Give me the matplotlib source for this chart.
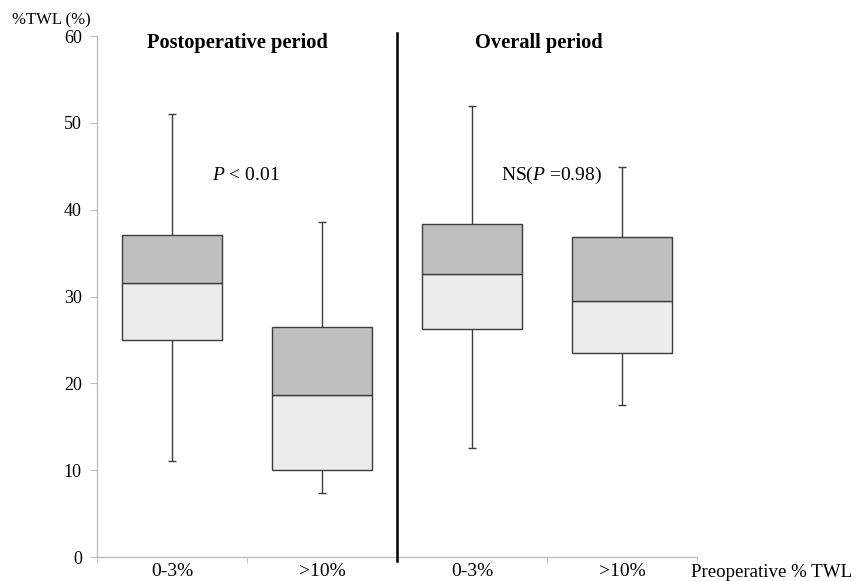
import numpy as np
import matplotlib
matplotlib.use("Agg")
import matplotlib.pyplot as plt

plt.rcParams['font.family'] = ['Liberation Serif', 'DejaVu Serif']
plt.rcParams['mathtext.fontset'] = 'custom'
plt.rcParams['mathtext.rm'] = 'Liberation Serif'
plt.rcParams['mathtext.it'] = 'Liberation Serif:italic'

# data (%TWL)
labels = ["0-3%", ">10%", "0-3%", ">10%"]
whisk_lo = [11.0, 7.4, 12.5, 17.5]
q1 = [25.0, 10.0, 26.3, 23.5]
median = [31.5, 18.7, 32.6, 29.5]
q3 = [37.1, 26.5, 38.3, 36.9]
whisk_hi = [51.0, 38.6, 51.9, 44.9]

panel_titles = ["Postoperative period", "Overall period"]
p_texts = [r"$P$ < 0.01", r"NS($P$ =0.98)"]

fig = plt.figure(figsize=(8.58, 5.81), dpi=100)
ax = fig.add_axes([0.1131, 0.0413, 0.6993, 0.8967])

pos = np.arange(len(labels))
w = 0.667
edge = "#3c3c3c"

# whiskers + caps
ax.vlines(pos, whisk_lo, q1, color=edge, lw=1.0, zorder=1)
ax.vlines(pos, q3, whisk_hi, color=edge, lw=1.0, zorder=1)
ax.hlines(whisk_lo, pos - 0.027, pos + 0.027, color=edge, lw=1.0, zorder=1)
ax.hlines(whisk_hi, pos - 0.027, pos + 0.027, color=edge, lw=1.0, zorder=1)

# two-tone boxes
lower = np.array(median) - np.array(q1)
upper = np.array(q3) - np.array(median)
ax.bar(pos, lower, bottom=q1, width=w, color="#ebeded", edgecolor=edge, lw=1.0, zorder=2)
ax.bar(pos, upper, bottom=median, width=w, color="#bfbfbf", edgecolor=edge, lw=1.0, zorder=2)

ax.set_xlim(-0.5, 3.5)
ax.set_ylim(0, 60)

# divider between periods
ax.plot([1.5, 1.5], [-0.5, 60.4], color="black", lw=1.8, clip_on=False, zorder=3)

for s in ["top", "right"]:
    ax.spines[s].set_visible(False)
for s in ["left", "bottom"]:
    ax.spines[s].set_color("#bdbdbd")
    ax.spines[s].set_linewidth(1.0)

ax.set_yticks(np.arange(0, 61, 10))
ax.tick_params(axis="y", direction="out", length=5, color="#bdbdbd", labelsize=13, pad=6)
ax.set_xticks(pos)
ax.set_xticklabels(labels)
ax.tick_params(axis="x", length=0, labelsize=14, pad=4)
ax.set_xticks(np.arange(-0.5, 3.6, 1), minor=True)
ax.tick_params(axis="x", which="minor", direction="out", length=4, color="#bdbdbd")

ax.text(0.433, 59.2, panel_titles[0], ha="center", va="center", fontsize=14.7, fontweight="bold")
ax.text(2.447, 59.2, panel_titles[1], ha="center", va="center", fontsize=14.7, fontweight="bold")
ax.text(0.493, 43.9, p_texts[0], ha="center", va="center", fontsize=14)
ax.text(2.527, 43.9, p_texts[1], ha="center", va="center", fontsize=14)

fig.text(12 / 858, 1 - 20.7 / 581, "%TWL (%)", ha="left", va="center", fontsize=12)
fig.text(691 / 858, 4 / 581, "Preoperative % TWL", ha="left", va="baseline", fontsize=13.6)

fig.savefig("out.png", dpi=100)
